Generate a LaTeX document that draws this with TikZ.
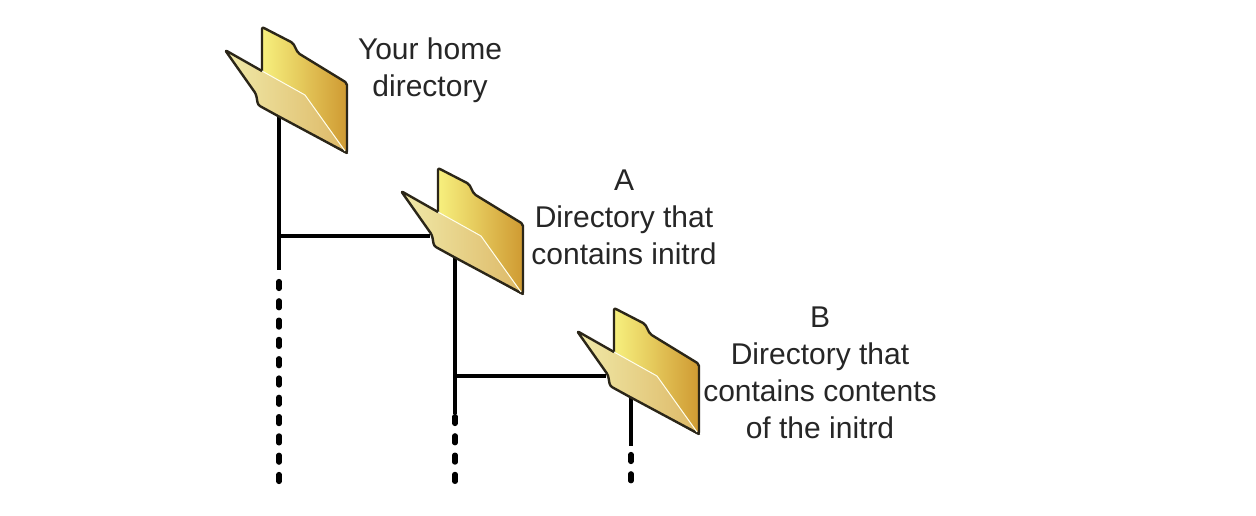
\documentclass[tikz,border=0pt]{standalone}
\usepackage{fontspec}
\setmainfont{Liberation Sans}
\usetikzlibrary{positioning, calc, backgrounds}
\definecolor{backleft}{HTML}{F7F07E}
\definecolor{backmid}{HTML}{E9C650}
\definecolor{backright}{HTML}{CF9A32}
\definecolor{frontleft}{HTML}{F0E9A8}
\definecolor{frontright}{HTML}{DDB866}
\definecolor{folderedge}{HTML}{2B2618}
\tikzset{
  x=1pt, y=-1pt,
  edge/.style={draw=folderedge, line width=2.4pt, line join=round, line cap=round},
  branch/.style={line width=4.8pt, black},
  dots/.style={line width=5.2pt, black, line cap=round, dash pattern=on 7pt off 12.3pt},
  note/.style={align=center, font=\fontsize{30}{37}\selectfont, text=black!85, inner sep=0pt},
  pics/folder/.style={code={
    \path[edge, rounded corners=2pt, left color=backleft, middle color=backmid, right color=backright]
      (262,27) -- (293,43) -- (298,53) -- (347,83) -- (347,153) -- (262,105) -- cycle;
    \path[left color=frontleft, right color=frontright]
      (227,52) -- (262,71) -- (305,95) -- (347,153) -- (278,116) -- (259,105) -- (256,94) -- cycle;
    \draw[edge, rounded corners=2.5pt] (262,71) -- (225,50) -- (256,94) -- (258,105) -- (278,116) -- (347,153);
    \draw[white!92!yellow, line width=1pt] (262,71) -- (305,95) -- (345,151);
    \coordinate (-stem) at (279,112);
    \coordinate (-side) at (254,95);
  }}
}
\begin{document}
\begin{tikzpicture}
    \useasboundingbox (0,0) rectangle (1256,516);
    \pic (home) at (0,0) {folder};
    \pic (dira) at (176,141) {folder};
    \pic (dirb) at (352,281) {folder};

    \node[note] (homelabel) at (430,70) {Your home\\directory};
    \node[note] (alabel) at (624,217) {A\\Directory that\\contains initrd};
    \node[note] (blabel) at (820,373) {B\\Directory that\\contains contents\\of the initrd};

    \coordinate (homeend) at (279,270);
    \coordinate (aend) at (455,414);
    \coordinate (bend) at (631,446);
    \coordinate (homebottom) at (279,484);
    \coordinate (abottom) at (455,484);
    \coordinate (bbottom) at (631,484);

    \begin{scope}[on background layer]
      \fill[white] (0,0) rectangle (1256,516);
      \draw[branch] (home-stem) -- (homeend);
      \draw[branch] (home-stem |- dira-side) -- (dira-side);
      \draw[branch] (dira-stem) -- (aend);
      \draw[branch] (dira-stem |- dirb-side) -- (dirb-side);
      \draw[branch] (dirb-stem) -- (bend);
      \draw[dots] (homeend) ++(0,11.5) -- (homebottom);
      \draw[dots] (aend) ++(0,2.5) -- (abottom);
      \draw[dots] (bend) ++(0,8.5) -- (bbottom);
    \end{scope}
\end{tikzpicture}
\end{document}
